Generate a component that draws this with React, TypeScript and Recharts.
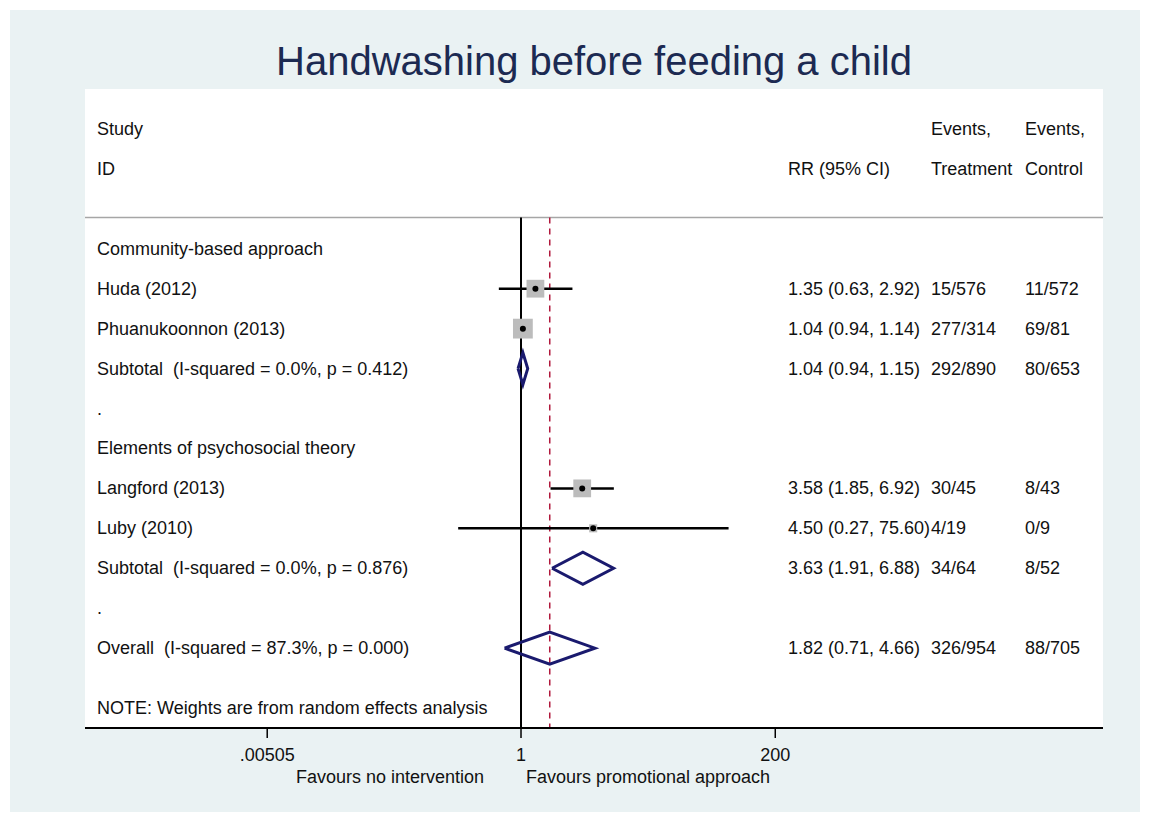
import { ComposedChart, XAxis, YAxis, Scatter, Line, ReferenceLine, CartesianGrid } from "recharts";

const FONT = '"Liberation Sans", Arial, sans-serif';
const NAVY = "#1a1a6e";

// header lines sit above the first row slot
const headerSlots = [-3, -2];
const headerStudy = ["Study", "ID"];
const headerRR = ["", "RR (95% CI)"];
const headerTreat = ["Events,", "Treatment"];
const headerCtrl = ["Events,", "Control"];

// left-hand labels, one per row slot
const rowSlots = [0, 1, 2, 3, 4, 5, 6, 7, 8, 9, 10, 11.5];
const rowLabels = [
  "Community-based approach",
  "Huda (2012)",
  "Phuanukoonnon (2013)",
  "Subtotal  (I-squared = 0.0%, p = 0.412)",
  ".",
  "Elements of psychosocial theory",
  "Langford (2013)",
  "Luby (2010)",
  "Subtotal  (I-squared = 0.0%, p = 0.876)",
  ".",
  "Overall  (I-squared = 87.3%, p = 0.000)",
  "NOTE: Weights are from random effects analysis",
];

// individual studies
const studyRows = [1, 2, 6, 7];
const studyRR = [1.35, 1.04, 3.58, 4.5];
const studyLo = [0.63, 0.94, 1.85, 0.27];
const studyHi = [2.92, 1.14, 6.92, 75.6];
const studyWeight = [29, 36, 29, 6];

// pooled estimates (two subtotals + overall)
const poolRows = [3, 8, 10];
const poolRR = [1.04, 3.63, 1.82];
const poolLo = [0.94, 1.91, 0.71];
const poolHi = [1.15, 6.88, 4.66];

const eventRows = [1, 2, 3, 6, 7, 8, 10];
const eventsTreat = ["15/576", "277/314", "292/890", "30/45", "4/19", "34/64", "326/954"];
const eventsCtrl = ["11/572", "69/81", "80/653", "8/43", "0/9", "8/52", "88/705"];

const xTicks = [0.00505, 1, 200];
const xTickLabels = [".00505", "1", "200"];
const xDomain = [1.133e-4, 1.849e5];
const yDomain = [-4, 12];
const headerLineY = -0.78;

const fmt = (v: number, lo: number, hi: number) => `${v.toFixed(2)} (${lo.toFixed(2)}, ${hi.toFixed(2)})`;

type RowText = { label: string; rr: string; treat: string; ctrl: string };
const rowText: Record<string, RowText> = {};
headerSlots.forEach((s, i) => {
  rowText[String(s)] = { label: headerStudy[i], rr: headerRR[i], treat: headerTreat[i], ctrl: headerCtrl[i] };
});
rowSlots.forEach((s, i) => {
  rowText[String(s)] = { label: rowLabels[i], rr: "", treat: "", ctrl: "" };
});
studyRows.forEach((r, i) => {
  rowText[String(r)].rr = fmt(studyRR[i], studyLo[i], studyHi[i]);
});
poolRows.forEach((r, i) => {
  rowText[String(r)].rr = fmt(poolRR[i], poolLo[i], poolHi[i]);
});
eventRows.forEach((r, i) => {
  rowText[String(r)].treat = eventsTreat[i];
  rowText[String(r)].ctrl = eventsCtrl[i];
});

const squares = studyRows.map((r, i) => ({ x: studyRR[i], y: r, w: studyWeight[i] }));

const txt = { fontFamily: FONT, fontSize: 18, fill: "#111", whiteSpace: "pre" as const };

function RowTick(props: any) {
  const row = rowText[String(props.payload.value)];
  if (!row) return null;
  const y = props.y;
  return (
    <g>
      <text x={97} y={y} dominantBaseline="central" style={txt}>{row.label}</text>
      <text x={788} y={y} dominantBaseline="central" style={txt}>{row.rr}</text>
      <text x={931} y={y} dominantBaseline="central" style={txt}>{row.treat}</text>
      <text x={1025} y={y} dominantBaseline="central" style={txt}>{row.ctrl}</text>
    </g>
  );
}

function XTick(props: any) {
  const { x, y, index } = props;
  return (
    <g>
      <text x={x} y={y + 21} textAnchor="middle" style={txt}>{xTickLabels[index]}</text>
      {xTicks[index] === 1 && (
        <>
          <text x={x - 37} y={y + 43} textAnchor="end" style={txt}>Favours no intervention</text>
          <text x={x + 5} y={y + 43} textAnchor="start" style={txt}>Favours promotional approach</text>
        </>
      )}
    </g>
  );
}

function SquareShape(props: any) {
  const { cx, cy, payload } = props;
  const s = 3.3 * Math.sqrt(payload.w);
  return (
    <g>
      <rect x={cx - s / 2} y={cy - s / 2} width={s} height={s} fill="#bcbcbc" />
      <circle cx={cx} cy={cy} r={3} fill="#000" />
    </g>
  );
}

const diamond = (i: number) => [
  { x: poolLo[i], y: poolRows[i] },
  { x: poolRR[i], y: poolRows[i] - 0.4 },
  { x: poolHi[i], y: poolRows[i] },
  { x: poolRR[i], y: poolRows[i] + 0.4 },
  { x: poolLo[i], y: poolRows[i] },
];

export default function App() {
  return (
    <div style={{ position: "absolute", left: 0, top: 0, width: 1150, height: 814, background: "#fff" }}>
      <div style={{ position: "absolute", left: 10, top: 10, width: 1130, height: 802, background: "#eaf2f3" }} />
      <div
        style={{
          position: "absolute",
          left: 0,
          top: 41,
          width: 1188,
          textAlign: "center",
          fontFamily: FONT,
          fontSize: 40,
          lineHeight: "40px",
          color: "#1c2a52",
        }}
      >
        Handwashing before feeding a child
      </div>
      <div style={{ position: "absolute", left: 0, top: 0 }}>
        <ComposedChart width={1150} height={814} margin={{ top: 89, right: 47, bottom: 46, left: 65 }}>
          <CartesianGrid horizontal={false} vertical={false} fill="#ffffff" />
          <XAxis
            type="number"
            dataKey="x"
            scale="log"
            domain={xDomain}
            allowDataOverflow
            ticks={xTicks}
            interval={0}
            height={40}
            axisLine={{ stroke: "#000", strokeWidth: 2 }}
            tickLine={{ stroke: "#000", strokeWidth: 1.5 }}
            tickSize={10}
            tick={(p: any) => <XTick {...p} />}
          />
          <YAxis
            type="number"
            dataKey="y"
            domain={yDomain}
            reversed
            allowDataOverflow
            ticks={[...headerSlots, ...rowSlots]}
            interval={0}
            width={20}
            axisLine={false}
            tickLine={false}
            tick={(p: any) => <RowTick {...p} />}
          />
          <ReferenceLine y={headerLineY} stroke="#a6a6a6" strokeWidth={1.5} />
          <ReferenceLine
            segment={[{ x: 1, y: headerLineY }, { x: 1, y: yDomain[1] }]}
            stroke="#000"
            strokeWidth={2}
          />
          <ReferenceLine
            segment={[{ x: poolRR[2], y: headerLineY }, { x: poolRR[2], y: yDomain[1] }]}
            stroke="#b0183c"
            strokeWidth={1.5}
            strokeDasharray="6 5"
          />
          <Scatter data={squares} shape={(p: any) => <SquareShape {...p} />} isAnimationActive={false} />
          {studyRows.map((r, i) => (
            <Line
              key={`ci-${i}`}
              data={[{ x: studyLo[i], y: r }, { x: studyHi[i], y: r }]}
              dataKey="y"
              stroke="#000"
              strokeWidth={2.5}
              dot={false}
              activeDot={false}
              isAnimationActive={false}
            />
          ))}
          {poolRows.map((_, i) => (
            <Line
              key={`pool-${i}`}
              data={diamond(i)}
              dataKey="y"
              stroke={NAVY}
              strokeWidth={3}
              strokeLinejoin="miter"
              dot={false}
              activeDot={false}
              isAnimationActive={false}
            />
          ))}
        </ComposedChart>
      </div>
    </div>
  );
}
